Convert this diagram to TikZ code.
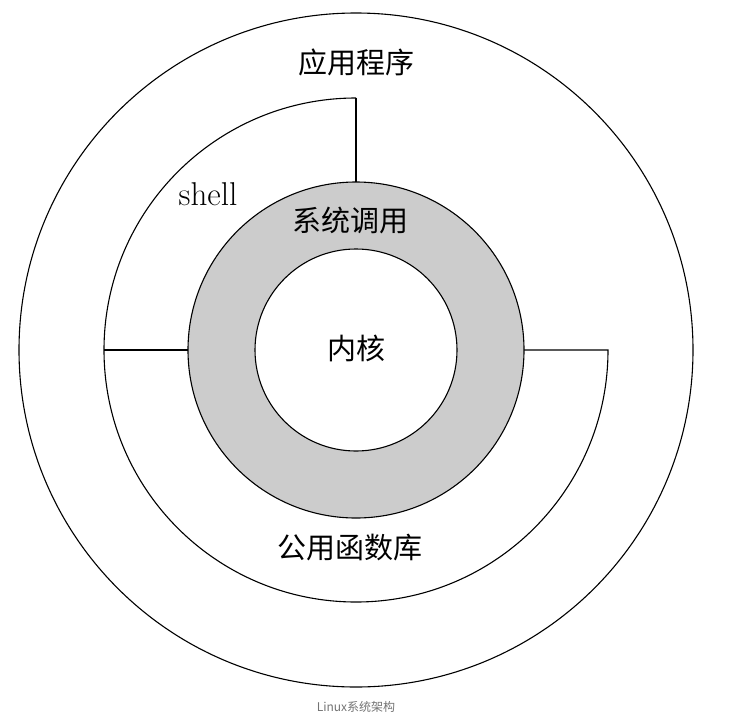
\documentclass[tikz,border=0pt]{standalone}
\usepackage{fontspec}
\newfontfamily\cjk{Noto Sans CJK SC}
\begin{document}
\begin{tikzpicture}[x=1pt,y=-1pt,line width=1.1pt,
  lbl/.style={font=\cjk\fontsize{29}{31}\selectfont},
  ring/.style={draw=black}]
\useasboundingbox (0,0) rectangle (736,715);
\coordinate (c) at (356,350);
\draw[ring] (c) circle[radius=337];
\draw[ring] (356,98) arc[start angle=270,end angle=0,radius=252] -- (524,350);
\draw[ring] (104,350) -- (188,350);
\draw[ring] (356,98) -- (356,182);
\draw[ring,fill=black!20] (c) circle[radius=168];
\draw[ring,fill=white] (c) circle[radius=101];
\node[lbl] (app) at (356,62) {应用程序};
\node[font=\fontsize{33}{35}\selectfont] (sh) at (208,194) {shell};
\node[lbl] (sys) at (350,220) {系统调用};
\node[lbl] (k) at (356,348) {内核};
\node[lbl] (lib) at (350,548) {公用函数库};
\node[font=\cjk\fontsize{12}{14}\selectfont,text=black!55] (cap) at (356,707) {Linux系统架构};
\end{tikzpicture}
\end{document}
